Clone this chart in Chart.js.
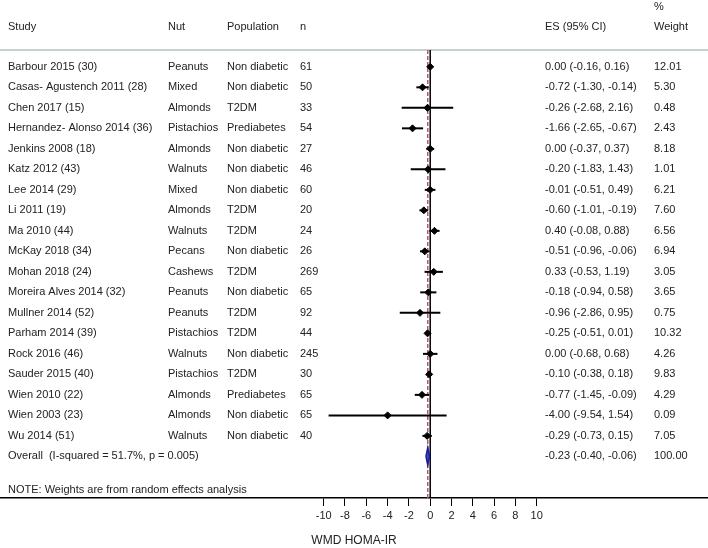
<!DOCTYPE html>
<html>
<head>
<meta charset="utf-8">
<script src="https://cdn.jsdelivr.net/npm/chart.js@4"></script>
<style>
  html, body { margin: 0; padding: 0; background: #fff; }
  canvas { display: block; }
</style>
</head>
<body>
<canvas id="forest" width="708" height="548"></canvas>
<script>
const studies = ['Barbour 2015 (30)', 'Casas- Agustench 2011 (28)', 'Chen 2017 (15)', 'Hernandez- Alonso 2014 (36)',
  'Jenkins 2008 (18)', 'Katz 2012 (43)', 'Lee 2014 (29)', 'Li 2011 (19)', 'Ma 2010 (44)', 'McKay 2018 (34)',
  'Mohan 2018 (24)', 'Moreira Alves 2014 (32)', 'Mullner 2014 (52)', 'Parham 2014 (39)', 'Rock 2016 (46)',
  'Sauder 2015 (40)', 'Wien 2010 (22)', 'Wien 2003 (23)', 'Wu 2014 (51)']
const nuts = ['Peanuts', 'Mixed', 'Almonds', 'Pistachios', 'Almonds', 'Walnuts', 'Mixed', 'Almonds', 'Walnuts', 'Pecans',
  'Cashews', 'Peanuts', 'Peanuts', 'Pistachios', 'Walnuts', 'Pistachios', 'Almonds', 'Almonds', 'Walnuts']
const populations = ['Non diabetic', 'Non diabetic', 'T2DM', 'Prediabetes', 'Non diabetic', 'Non diabetic', 'Non diabetic',
  'T2DM', 'T2DM', 'Non diabetic', 'T2DM', 'Non diabetic', 'T2DM', 'T2DM', 'Non diabetic', 'T2DM', 'Prediabetes',
  'Non diabetic', 'Non diabetic']
const sizes = [61, 50, 33, 54, 27, 46, 60, 20, 24, 26, 269, 65, 92, 44, 245, 30, 65, 65, 40]
const es = [0.00, -0.72, -0.26, -1.66, 0.00, -0.20, -0.01, -0.60, 0.40, -0.51, 0.33, -0.18, -0.96, -0.25, 0.00, -0.10, -0.77, -4.00, -0.29]
const lower = [-0.16, -1.30, -2.68, -2.65, -0.37, -1.83, -0.51, -1.01, -0.08, -0.96, -0.53, -0.94, -2.86, -0.51, -0.68, -0.38, -1.45, -9.54, -0.73]
const upper = [0.16, -0.14, 2.16, -0.67, 0.37, 1.43, 0.49, -0.19, 0.88, -0.06, 1.19, 0.58, 0.95, 0.01, 0.68, 0.18, -0.09, 1.54, 0.15]
const weights = [12.01, 5.30, 0.48, 2.43, 8.18, 1.01, 6.21, 7.60, 6.56, 6.94, 3.05, 3.65, 0.75, 10.32, 4.26, 9.83, 4.29, 0.09, 7.05]

const overallLabel = 'Overall  (I-squared = 51.7%, p = 0.005)'
const overallEs = -0.23
const overallLower = -0.40
const overallUpper = -0.06
const overallWeight = 100.00
const noteText = 'NOTE: Weights are from random effects analysis'
const xTicks = [-10, -8, -6, -4, -2, 0, 2, 4, 6, 8, 10]

const fontFamily = "'Liberation Sans', Arial, sans-serif"
const textColor = '#222'
const overallRow = studies.length
const headerLineRow = -0.82
const yTop = -3.26
const yBottom = 21.03

const fmt = v => v.toFixed(2)

const datasets = []
studies.forEach((s, i) => {
  datasets.push({
    type: 'line',
    data: [{ x: lower[i], y: i }, { x: upper[i], y: i }],
    borderColor: '#000',
    borderWidth: 2,
    pointRadius: 0,
    order: 5
  })
})
datasets.push({
  type: 'scatter',
  data: es.map((v, i) => ({ x: v, y: i })),
  pointStyle: 'rectRot',
  radius: 3.5,
  backgroundColor: '#000',
  borderColor: '#000',
  order: 1
})
// reference lines: no effect and overall estimate
datasets.push({
  type: 'line',
  data: [{ x: 0, y: headerLineRow }, { x: 0, y: yBottom }],
  borderColor: '#000',
  borderWidth: 1.5,
  pointRadius: 0,
  order: 8
})
datasets.push({
  type: 'line',
  data: [{ x: overallEs, y: headerLineRow }, { x: overallEs, y: yBottom }],
  borderColor: '#b45a6c',
  borderWidth: 1.5,
  borderDash: [4, 2],
  pointRadius: 0,
  order: 9
})
// overall diamond
datasets.push({
  type: 'line',
  data: [
    { x: overallLower, y: overallRow },
    { x: overallEs, y: overallRow - 0.42 },
    { x: overallUpper, y: overallRow },
    { x: overallEs, y: overallRow + 0.42 },
    { x: overallLower, y: overallRow }
  ],
  borderColor: '#1a1a9a',
  backgroundColor: '#3a48c8',
  borderWidth: 1.5,
  pointRadius: 0,
  fill: 'shape',
  tension: 0,
  order: 0
})

const tablePlugin = {
  id: 'tableText',
  beforeDatasetsDraw(chart) {
    const ctx = chart.ctx
    const y = chart.scales.y
    ctx.save()
    ctx.strokeStyle = '#c8cfcf'
    ctx.lineWidth = 2
    ctx.beginPath()
    ctx.moveTo(0, y.getPixelForValue(headerLineRow))
    ctx.lineTo(chart.width, y.getPixelForValue(headerLineRow))
    ctx.stroke()
    ctx.restore()
  },
  afterDraw(chart) {
    const ctx = chart.ctx
    const y = chart.scales.y
    ctx.save()
    ctx.fillStyle = textColor
    ctx.font = '11px ' + fontFamily
    ctx.textBaseline = 'middle'
    ctx.textAlign = 'left'
    const cols = { study: 8, nut: 168, pop: 227, n: 300, es: 545, w: 654 }
    const hy = y.getPixelForValue(-1.966)
    ctx.fillText('Study', cols.study, hy)
    ctx.fillText('Nut', cols.nut, hy)
    ctx.fillText('Population', cols.pop, hy)
    ctx.fillText('n', cols.n, hy)
    ctx.fillText('ES (95% CI)', cols.es, hy)
    ctx.fillText('Weight', cols.w, hy)
    ctx.fillText('%', cols.w, y.getPixelForValue(-2.94))
    studies.forEach((s, i) => {
      const py = y.getPixelForValue(i)
      ctx.fillText(s, cols.study, py)
      ctx.fillText(nuts[i], cols.nut, py)
      ctx.fillText(populations[i], cols.pop, py)
      ctx.fillText(String(sizes[i]), cols.n, py)
      ctx.fillText(fmt(es[i]) + ' (' + fmt(lower[i]) + ', ' + fmt(upper[i]) + ')', cols.es, py)
      ctx.fillText(fmt(weights[i]), cols.w, py)
    })
    const oy = y.getPixelForValue(overallRow)
    ctx.fillText(overallLabel, cols.study, oy)
    ctx.fillText(fmt(overallEs) + ' (' + fmt(overallLower) + ', ' + fmt(overallUpper) + ')', cols.es, oy)
    ctx.fillText(fmt(overallWeight), cols.w, oy)
    ctx.fillText(noteText, cols.study, y.getPixelForValue(20.63))
    ctx.restore()
  }
}

new Chart(document.getElementById('forest'), {
  data: { datasets: datasets },
  options: {
    responsive: false,
    animation: false,
    layout: { padding: 0, autoPadding: false },
    plugins: { legend: { display: false }, tooltip: { enabled: false } },
    scales: {
      x: {
        type: 'linear',
        position: 'bottom',
        min: -40.39,
        max: 26.08,
        afterBuildTicks: scale => { scale.ticks = xTicks.map(v => ({ value: v })) },
        afterFit: scale => { scale.height = 50 },
        grid: { drawOnChartArea: false, drawTicks: true, tickLength: 8, color: '#000', lineWidth: 1 },
        border: { display: true, color: '#000', width: 1.5 },
        ticks: { color: textColor, font: { size: 11, family: fontFamily }, padding: 3, maxRotation: 0, autoSkip: false },
        title: { display: true, text: 'WMD HOMA-IR', color: textColor, font: { size: 12, family: fontFamily }, padding: 0 }
      },
      y: {
        type: 'linear',
        display: false,
        reverse: true,
        min: yTop,
        max: yBottom
      }
    }
  },
  plugins: [tablePlugin]
});
</script>
</body>
</html>
